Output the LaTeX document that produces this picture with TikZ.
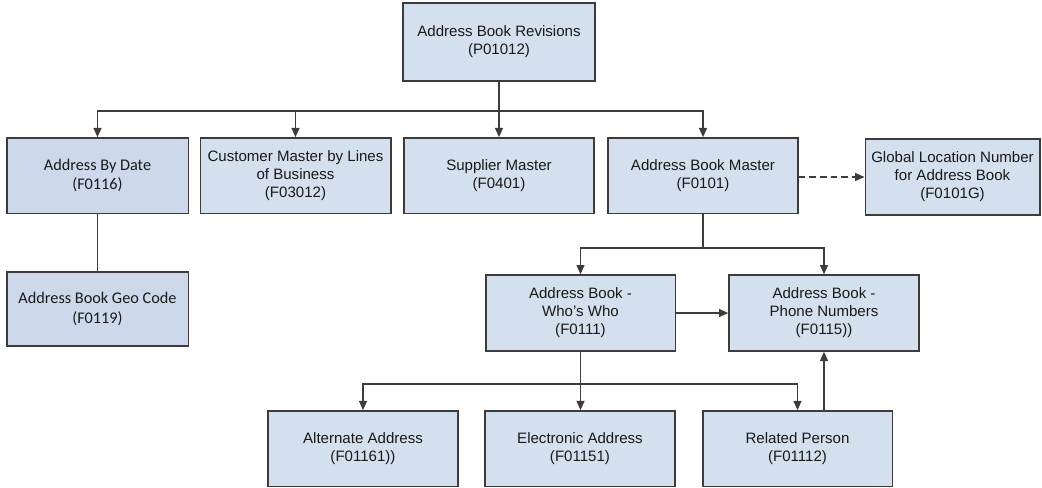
\documentclass[tikz,border=0pt]{standalone}
\usepackage{fontspec}
\setmainfont{Liberation Sans}
\newfontfamily\calibrifont{Carlito}
\usetikzlibrary{arrows.meta}
\definecolor{boxfill}{RGB}{213,224,238}
\definecolor{flatfill}{RGB}{205,217,235}
\definecolor{edge}{RGB}{60,60,60}
\tikzset{
  table box/.style={draw=edge,line width=1pt,fill=boxfill,align=center,
    text=black!90,inner sep=2pt,minimum height=56.5pt,minimum width=142.5pt,
    font=\fontsize{11.3}{13.5}\selectfont}, % stippled boxes
  flat box/.style={table box,fill=flatfill,minimum width=136pt,
    font=\calibrifont\fontsize{12.2}{14.5}\selectfont}, % plain boxes
  link/.style={draw=edge,line width=1pt,-{Triangle[length=7pt,width=6pt]}},
}
\begin{document}
\begin{tikzpicture}[x=0.75pt,y=-0.75pt]
\useasboundingbox (0,0) rectangle (1042,487);

% top
\node[table box,minimum width=144pt,minimum height=58.5pt] (rev) at (499,42) {Address Book Revisions\\(P01012)};

% first row
\node[flat box] (date) at (97.5,175.5) {Address By Date\\(F0116)};
\node[table box,minimum width=143pt] (cust) at (295.5,175.5) {Customer Master by Lines\\of Business\\(F03012)};
\node[table box] (supp) at (499,175.5) {Supplier Master\\(F0401)};
\node[table box] (abm) at (703,175.5) {Address Book Master\\(F0101)};
\node[table box,minimum width=131pt,minimum height=57pt] (gln) at (952.5,177) {Global Location Number\\for Address Book\\(F0101G)};

\node[flat box,minimum height=55.5pt] (geo) at (97.5,309) {Address Book Geo Code\\(F0119)};

% second row
\node[table box,minimum width=142pt,minimum height=57pt] (who) at (580.5,313) {Address Book -\\Who's Who\\(F0111)};
\node[table box,minimum height=57pt] (phone) at (824,313) {Address Book -\\Phone Numbers\\(F0115))};

% third row
\node[table box] (alt) at (363,448.5) {Alternate Address\\(F01161))};
\node[table box] (elec) at (580,448.5) {Electronic Address\\(F01151)};
\node[table box,minimum width=142pt] (rel) at (797.5,448.5) {Related Person\\(F01112)};

\coordinate (top split) at (499,111);
\coordinate (abm split) at (703,248);
\coordinate (who split) at (580.5,384);

\draw[link] (rev.south) -- (supp.north);
\draw[link] (top split) -| (date.north);
\draw[link] (top split) -| (cust.north);
\draw[link] (top split) -| (abm.north);
\draw[draw=edge,line width=1pt] (date.south) -- (geo.north);
\draw[link,dash pattern=on 5pt off 3pt] (abm.east |- gln.west) -- (gln.west);

\draw[draw=edge,line width=1pt] (abm.south) -- (abm split);
\draw[link] (abm split) -| (who.north);
\draw[link] (abm split) -| (phone.north);
\draw[link] (who.east) -- (phone.west |- who.east);

\draw[link] (who.south) -- (elec.north -| who.south);
\draw[link] (who split) -| (alt.north);
\draw[link] (who split) -| (rel.north);
\draw[link] (rel.north -| phone.south) -- (phone.south);

\end{tikzpicture}
\end{document}
